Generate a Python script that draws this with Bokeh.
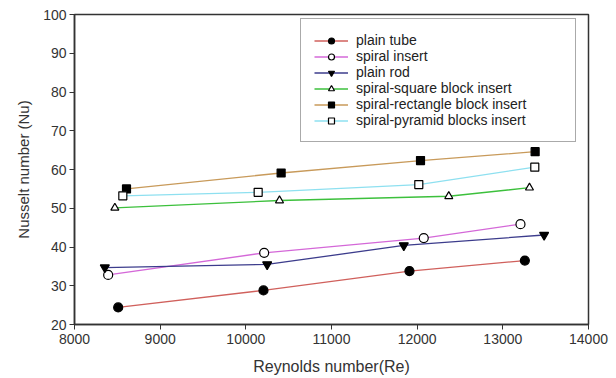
from bokeh.plotting import figure
from bokeh.models import Range1d, FixedTicker, Legend, LegendItem
from bokeh.embed import file_html
from bokeh.resources import INLINE

# Data
series_names = ["plain tube", "spiral insert", "plain rod",
                "spiral-square block insert", "spiral-rectangle block insert",
                "spiral-pyramid blocks insert"]

re_plain_tube = [8510, 10206, 11910, 13257]
nu_plain_tube = [24.4, 28.8, 33.8, 36.5]

re_spiral_insert = [8393, 10214, 12077, 13206]
nu_spiral_insert = [32.8, 38.5, 42.3, 45.9]

re_plain_rod = [8354, 10249, 11844, 13482]
nu_plain_rod = [34.7, 35.5, 40.4, 43.1]

re_square = [8471, 10393, 12369, 13311]
nu_square = [50.1, 52.0, 53.1, 55.3]

re_rect = [8607, 10412, 12039, 13377]
nu_rect = [55.0, 59.1, 62.3, 64.6]

re_pyramid = [8564, 10144, 12019, 13373]
nu_pyramid = [53.2, 54.1, 56.1, 60.6]

x_ticks = [8000, 9000, 10000, 11000, 12000, 13000, 14000]
y_ticks = [20, 30, 40, 50, 60, 70, 80, 90, 100]

line_colors = ["#d0605c", "#d468d8", "#3c3c8c", "#3cc03c", "#c89a5a", "#8ee0f0"]
markers = ["circle", "circle", "inverted_triangle", "triangle", "square", "square"]
fills = ["black", "white", "black", "white", "black", "white"]
sizes = [9, 9, 9, 8, 8, 8]

xs = [re_plain_tube, re_spiral_insert, re_plain_rod, re_square, re_rect, re_pyramid]
ys = [nu_plain_tube, nu_spiral_insert, nu_plain_rod, nu_square, nu_rect, nu_pyramid]

p = figure(width=616, height=378, output_backend="svg", toolbar_location=None,
           x_range=Range1d(8000, 14000), y_range=Range1d(20, 100),
           min_border_left=74, min_border_right=28, min_border_top=14,
           min_border_bottom=54)
p.background_fill_color = "white"
p.border_fill_color = "white"
p.xgrid.visible = False
p.ygrid.visible = False
p.outline_line_color = "#333333"
p.outline_line_width = 1.5

for ax in (p.xaxis[0], p.yaxis[0]):
    ax.axis_line_color = "#333333"
    ax.axis_line_width = 1.5
    ax.major_tick_line_color = "#333333"
    ax.major_tick_in = 0
    ax.major_tick_out = 5
    ax.minor_tick_line_color = None
    ax.major_label_text_font = "Liberation Sans"
    ax.major_label_text_font_size = "14px"
    ax.major_label_text_color = "#333333"
    ax.axis_label_text_font = "Liberation Sans"
    ax.axis_label_text_font_style = "normal"
    ax.axis_label_text_color = "#333333"

p.xaxis.ticker = FixedTicker(ticks=x_ticks)
p.yaxis.ticker = FixedTicker(ticks=y_ticks)
p.xaxis.axis_label = "Reynolds number(Re)"
p.yaxis.axis_label = "Nusselt number (Nu)"
p.xaxis.axis_label_text_font_size = "16px"
p.yaxis.axis_label_text_font_size = "15px"
p.xaxis.major_label_standoff = 4
p.yaxis.major_label_standoff = 3
p.xaxis.axis_label_standoff = 11
p.yaxis.axis_label_standoff = 8

items = []
for name, x, y, c, m, f, s in zip(series_names, xs, ys, line_colors, markers, fills, sizes):
    r1 = p.line(x, y, line_color=c, line_width=1.3)
    r2 = p.scatter(x, y, marker=m, size=s, fill_color=f, line_color="black", line_width=1.2)
    items.append(LegendItem(label=name, renderers=[r1, r2]))

legend = Legend(items=items, location=(226, 182), orientation="vertical",
                padding=13, spacing=0, label_height=15, glyph_height=15,
                glyph_width=34, label_standoff=8, label_width=206,
                label_text_font="Liberation Sans", label_text_font_size="14px",
                label_text_color="#222222",
                border_line_color="#555555", border_line_width=1.2,
                background_fill_color="white", background_fill_alpha=1.0,
                margin=0)
p.add_layout(legend, "center")

open("out.html", "w").write(file_html(p, INLINE))
